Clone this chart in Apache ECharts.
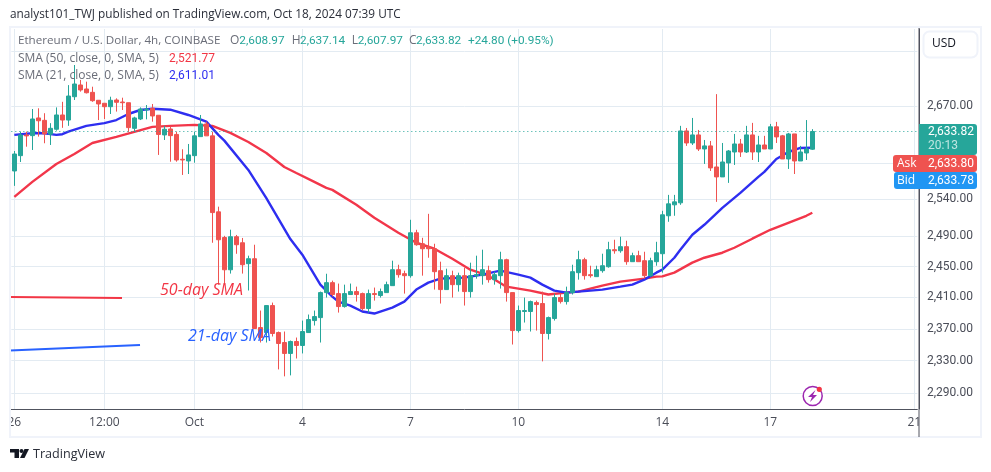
<!DOCTYPE html>
<html><head><meta charset="utf-8">
<style>html,body{margin:0;padding:0;background:#fff}#c{width:991px;height:472px}</style>
<script src="https://cdn.jsdelivr.net/npm/echarts@6/dist/echarts.min.js"></script>
</head><body><div id="c"></div>
<script>
const opens=[2578.8,2600,2629,2628,2653,2649.6,2630,2637,2657.2,2650,2683.3,2700.2,2694.4,2689.6,2678.2,2673.9,2669,2678.6,2675.7,2674.7,2638.3,2651.5,2664.3,2666.7,2656.8,2629,2637.4,2629.7,2595,2592.6,2600,2626.6,2644.5,2627.7,2523,2488.6,2446,2489.6,2481.6,2454,2460.5,2371.5,2365.2,2399.6,2365.2,2352.6,2338.9,2353.9,2348.9,2365.2,2380.4,2384.2,2416.3,2429.2,2415,2398.3,2413.8,2417.6,2415,2395.8,2415,2412.5,2416.3,2425.3,2446.1,2440.9,2438.3,2494.9,2480.3,2476.4,2473.7,2444.8,2420.2,2438.3,2426.6,2438.3,2417.6,2438.3,2438.3,2444.8,2433.1,2438.3,2459.2,2416.3,2367.7,2392,2392,2403.4,2402.2,2364,2383,2409.9,2404.7,2416.3,2442.2,2459.2,2439.6,2437,2444.8,2450,2472.4,2471,2476.4,2456.6,2464.5,2457.9,2438.3,2456.6,2467.1,2517.7,2532.5,2535.2,2634.6,2617.7,2629,2609.3,2613.6,2584.3,2570.6,2589.9,2605.1,2616.3,2605.1,2629,2605.1,2614.9,2609.3,2640.4,2627.7,2595.4,2630.4,2592.6,2603.7,2608.97];
const closes=[2602.3,2629,2627.6,2651.5,2649,2630.4,2638.3,2657.2,2650,2684.3,2701.6,2693,2689,2677.6,2672.9,2669,2678.2,2675.3,2674.7,2639.3,2653,2665.7,2665.7,2655.8,2629.7,2637,2628,2594,2594,2601,2627.7,2644.5,2627.7,2522,2485.6,2446,2489.6,2479,2452.6,2460.5,2370.3,2358.9,2399.6,2364,2351.4,2338.9,2353.9,2348.9,2366.5,2381.7,2385.5,2416.3,2429.2,2413.8,2398.3,2415,2417.6,2413.8,2395.8,2415,2413.8,2417.6,2426.6,2446.1,2439.6,2438.3,2494.9,2479,2473.7,2473.7,2443.5,2420.2,2438.3,2426.6,2438.3,2417.6,2438.3,2439.6,2446.1,2433.1,2439.6,2459.2,2416.3,2367.7,2393.2,2393.2,2404.7,2400.9,2364,2384.2,2409.9,2404.7,2416.3,2443.5,2459.2,2438.3,2438.3,2446.1,2451.3,2472.4,2471,2476.4,2456.6,2464.5,2456.6,2438.3,2457.9,2468.4,2519,2533.8,2536.5,2634.6,2617.7,2629,2609.3,2613.6,2583,2570.6,2591.2,2606.5,2616.3,2605.1,2629,2605.1,2614.9,2609.3,2640.4,2626.2,2595.4,2630.4,2592.6,2605.1,2609.3,2633.82];
const lows=[2558.3,2591.2,2612.5,2607.9,2626.6,2617.3,2614.9,2635,2639,2641.8,2678.6,2690.6,2688,2676,2650,2651.5,2658.6,2662,2664.3,2633.3,2633.3,2650,2651,2647.7,2601,2621.9,2591.6,2591.6,2573.3,2574.6,2590.2,2626.6,2627.7,2481.6,2426.6,2426.6,2441,2467,2441,2419,2370.3,2352.6,2352.6,2360.2,2319,2310.4,2311.6,2332.6,2338.9,2365.2,2374.1,2352.6,2409.9,2411.2,2390.6,2397,2413.8,2404.7,2393.2,2390.6,2406,2409.9,2416.3,2425.3,2435.7,2415,2435.7,2477.7,2438.3,2461.8,2420.2,2402.2,2420.2,2409.9,2417.6,2399.6,2409.9,2434.4,2426.6,2429.2,2426.6,2421.5,2404.7,2350.1,2365.2,2377.9,2366.5,2367.7,2329,2356.4,2380.4,2402.2,2400.9,2413.8,2433.1,2433.1,2435.7,2437,2442.2,2448.7,2467.1,2468.4,2452.6,2456.6,2456.6,2434.4,2437,2451.3,2442.2,2509.6,2517.7,2532.5,2613.6,2614.9,2606.5,2588.5,2578.8,2536.5,2570.6,2562.4,2587.1,2598.2,2603.7,2594,2591.2,2609.3,2609.3,2617.7,2595.4,2581.6,2574.6,2592.6,2594,2607.97];
const highs=[2606.5,2633.6,2633.6,2665.7,2666.7,2659.7,2645.6,2668,2676,2700,2729.2,2707.5,2705,2697.7,2678.6,2673.9,2683.3,2681,2681.9,2674.7,2654.7,2668,2671.4,2672.9,2656.8,2641.8,2640.8,2633.6,2608.9,2616.3,2633.6,2657.2,2647.7,2633.3,2530,2490.8,2499,2492,2488,2464.5,2479,2393.2,2399.6,2403.4,2366.5,2366.5,2355.1,2358.9,2380.4,2388.1,2393.2,2417.6,2440.8,2431.8,2428,2426.6,2428,2424,2416.3,2420.2,2422.8,2421.5,2430.5,2457.9,2452.6,2444.8,2512.3,2498.9,2488.2,2520.3,2480.3,2456.6,2447.4,2444.8,2442.2,2448.7,2455.3,2464.5,2472.4,2451.3,2443.5,2469.7,2460.5,2416.3,2399.6,2409.9,2406,2406,2417.6,2385.5,2415,2415,2424,2452.6,2471,2461.8,2451.3,2451.3,2467.1,2482.9,2485.6,2489.6,2484.3,2468.4,2471,2469.7,2461.8,2482.9,2524.4,2546,2546,2641.8,2638.8,2653,2636,2621.9,2620.5,2687,2617.7,2607.9,2630.4,2623.3,2641.8,2646,2627.7,2627.7,2644.5,2647.4,2629,2631.8,2630.4,2613.6,2650,2637.14];
const sma21Idx=[0,3,5,7,8,9,12,15,17,19,21,23,26,29,32,34,35,39,42,46,48,51,53,54,56,58,60,63,65,67,69,71,75,78,81,84,86,88,90,92,94,98,101,103,105,107,108,110,111,113,115,118,121,124,125,127,129,131,133];
const sma21Val=[2629,2631.4,2631.4,2629,2630,2633.6,2641.8,2645.6,2650,2658.6,2664.3,2666.1,2664.7,2657.2,2647.7,2629,2621,2580.2,2541.5,2486.5,2465.8,2426.6,2411.2,2404.7,2399.6,2392,2389.4,2397,2404.7,2420.2,2429.2,2434.4,2435.7,2439.6,2444.8,2439.6,2435.7,2426.6,2418.9,2416.3,2417.6,2420.2,2424,2426.6,2433.1,2442.2,2446.1,2461.8,2472.4,2492.2,2505.6,2528.4,2548.7,2570.6,2577.5,2595.4,2605.1,2610.7,2611.01];
const sma50Idx=[0,3,7,10,13,17,20,23,26,30,33,36,39,42,45,47,50,52,53,57,60,64,67,70,73,76,79,82,84,86,89,92,94,98,101,105,107,108,110,113,115,118,120,123,126,129,132,133];
const sma50Val=[2543.3,2563.8,2588.5,2602.3,2617.7,2626.2,2633.3,2640.4,2641.8,2643.1,2641.8,2631.8,2619.1,2603.7,2584.3,2576,2563.8,2555.5,2552.8,2532.5,2515,2494.9,2481.6,2473.7,2460.5,2446.1,2438.3,2424,2421.5,2418.9,2413.8,2416.3,2417.6,2425.3,2430.5,2434.4,2437,2437.4,2442.2,2455.3,2461.8,2468.4,2475,2487,2498.9,2508.3,2517.7,2521.77];
const tickIdx=[0,15,30,48,66,84,108,126,150];
const tickLabels=['26','12:00','Oct','4','7','10','14','17','21'];
const gridPrices=[2290,2330,2370,2410,2450,2490,2540,2590,2670,2750];
const labelPrices=[2290,2330,2370,2410,2450,2490,2540,2670];
const lastPrice=2633.82;
const categories=Array.from({length:151},(_,i)=>String(i));

const FONT='"Open Sans",sans-serif',NUM='Roboto,sans-serif';
const UP='#26a69a',DOWN='#ef5350',GRID='#e3ebf2',AX='#50535e',TXT='#4a4d58',LEG='#6a6d78';
const fmt=v=>v.toLocaleString('en-US',{minimumFractionDigits:2,maximumFractionDigits:2});
const isTick=i=>tickIdx.includes(i);
const t=(x,y,text,fill,size,fam)=>({type:'text',z:60,x,y,silent:true,style:{text,fill,font:(size||12)+'px '+(fam||FONT),textVerticalAlign:'middle'}});
const ti=(x,y,text,fill,size)=>({type:'text',z:60,x,y,silent:true,style:{text,fill,font:'italic '+size+'px '+FONT,textVerticalAlign:'middle'}});

const chart=echarts.init(document.getElementById('c'),null,{renderer:'canvas'});
chart.setOption({
 animation:false,
 grid:{left:11.33,top:29,width:906,height:380,containLabel:false},
 xAxis:{type:'category',data:categories,boundaryGap:true,
  axisLine:{show:true,lineStyle:{color:AX,width:1}},
  axisTick:{show:false,alignWithLabel:true,interval:isTick},
  splitLine:{show:true,alignWithLabel:true,interval:isTick,lineStyle:{color:GRID,width:1}},
  axisLabel:{interval:isTick,hideOverlap:false,showMinLabel:true,showMaxLabel:true,color:TXT,fontSize:12,fontFamily:FONT,margin:8,
   formatter:(v,i)=>tickLabels[tickIdx.indexOf(+v)]}},
 yAxis:{type:'log',logBase:10,position:'right',offset:1.67,min:2270.4,max:2782.3,scale:true,
  axisLine:{show:true,onZero:false,lineStyle:{color:AX,width:1}},
  axisTick:{show:false,customValues:gridPrices},
  minorSplitLine:{show:false},
  splitLine:{show:true,lineStyle:{color:GRID,width:1}},
  axisLabel:{customValues:labelPrices,color:TXT,fontSize:12,fontFamily:NUM,margin:8,formatter:v=>fmt(v)}},
 series:[
  {type:'line',name:'SMA 50',z:2,showSymbol:false,smooth:false,lineStyle:{color:'#f2364a',width:2.4},
   data:sma50Idx.map((x,i)=>[x,sma50Val[i]])},
  {type:'line',name:'SMA 21',z:2,showSymbol:false,smooth:false,lineStyle:{color:'#2e2ef0',width:2.4},
   data:sma21Idx.map((x,i)=>[x,sma21Val[i]])},
  {type:'candlestick',name:'ETHUSD',z:3,barWidth:5,
   itemStyle:{color:UP,color0:DOWN,borderColor:UP,borderColor0:DOWN,borderWidth:1},
   data:opens.map((o,i)=>[o,closes[i],lows[i],highs[i]]),
   markLine:{silent:true,symbol:'none',label:{show:false},animation:false,
    lineStyle:{color:UP,type:[1,3],width:1},data:[{yAxis:lastPrice}]}}
 ],
 graphic:{elements:[
  {type:'rect',z:55,silent:true,shape:{x:0,y:0,width:9,height:472},style:{fill:'#fff'}},
  {type:'rect',z:56,silent:true,shape:{x:10,y:27,width:971,height:410},style:{fill:'none',stroke:'#f0f3fa',lineWidth:2}},
  {type:'line',z:57,silent:true,shape:{x1:919,y1:28,x2:919,y2:437},style:{stroke:AX,lineWidth:1}},
  {type:'line',z:40,silent:true,shape:{x1:10,y1:297,x2:122,y2:298},style:{stroke:'#f23645',lineWidth:2}},
  {type:'line',z:40,silent:true,shape:{x1:10,y1:350.5,x2:140,y2:345},style:{stroke:'#2962ff',lineWidth:2}},
  ti(160,290,'50-day SMA','#f23645',16),
  ti(188,336,'21-day SMA','#2962ff',16),
  t(10,15,'analyst101_TWJ published on TradingView.com, Oct 18, 2024 07:39 UTC','#2a2e39',11.8),
  t(18,41,'Ethereum / U.S. Dollar, 4h, COINBASE',LEG,11.65),
  t(230,41,'O',LEG,12),t(239.3,41,'2,608.97',UP,11.8,NUM),
  t(291.7,41,'H',LEG,12),t(300,41,'2,637.14',UP,11.8,NUM),
  t(351.7,41,'L',LEG,12),t(357.7,41,'2,607.97',UP,11.8,NUM),
  t(409,41,'C',LEG,12),t(416,41,'2,633.82',UP,11.8,NUM),
  t(468,41,'+24.80 (+0.95%)',UP,11.8,NUM),
  t(18,59,'SMA (50, close, 0, SMA, 5)',LEG,12),
  t(169,59,'2,521.77','#f23645',12,NUM),
  t(18,76,'SMA (21, close, 0, SMA, 5)',LEG,12),
  t(169,76,'2,611.01','#2e2ef0',12,NUM),
  {type:'rect',z:58,silent:true,shape:{x:923.5,y:31.5,width:54,height:26,r:6},style:{fill:'#fff',stroke:'#f0f3fa',lineWidth:2}},
  t(932,44,'USD','#131722',12),
  {type:'rect',z:58,silent:true,shape:{x:919,y:124,width:58,height:31,r:[0,3,3,0]},style:{fill:UP}},
  t(928,132,fmt(lastPrice),'#fff',12,NUM),
  t(928,146,'20:13','#bfe6e1',12,NUM),
  {type:'rect',z:58,silent:true,shape:{x:893,y:155,width:84,height:17,r:3},style:{fill:DOWN}},
  t(897,164,'Ask','#fff',12),
  t(928,164,'2,633.80','#fff',12,NUM),
  {type:'rect',z:58,silent:true,shape:{x:894,y:172,width:83,height:17,r:3},style:{fill:'#2196f3'}},
  t(897,181,'Bid','#fff',12),
  t(928,181,'2,633.78','#fff',12,NUM),
  {type:'circle',z:58,silent:true,shape:{cx:812.7,cy:396,r:9.5},style:{fill:'#fff',stroke:'#9c27b0',lineWidth:1.5}},
  {type:'polygon',z:59,silent:true,shape:{points:[[815.5,390],[808,397],[812,397],[810,402],[817,395],[813,395]]},style:{fill:'#9c27b0'}},
  {type:'circle',z:60,silent:true,shape:{cx:819.3,cy:389.3,r:2.6},style:{fill:'#f23645'}},
  {type:'polygon',z:59,silent:true,shape:{points:[[10,449],[19,449],[19,458],[14.5,458],[14.5,452.5],[10,452.5]]},style:{fill:'#131722'}},
  {type:'circle',z:59,silent:true,shape:{cx:21.5,cy:451,r:2},style:{fill:'#131722'}},
  {type:'polygon',z:59,silent:true,shape:{points:[[24.5,449],[29,449],[24.5,458],[20,458]]},style:{fill:'#131722'}},
  t(33,454.5,'TradingView','#2a2e39',12.6)
 ]}
});
</script></body></html>
